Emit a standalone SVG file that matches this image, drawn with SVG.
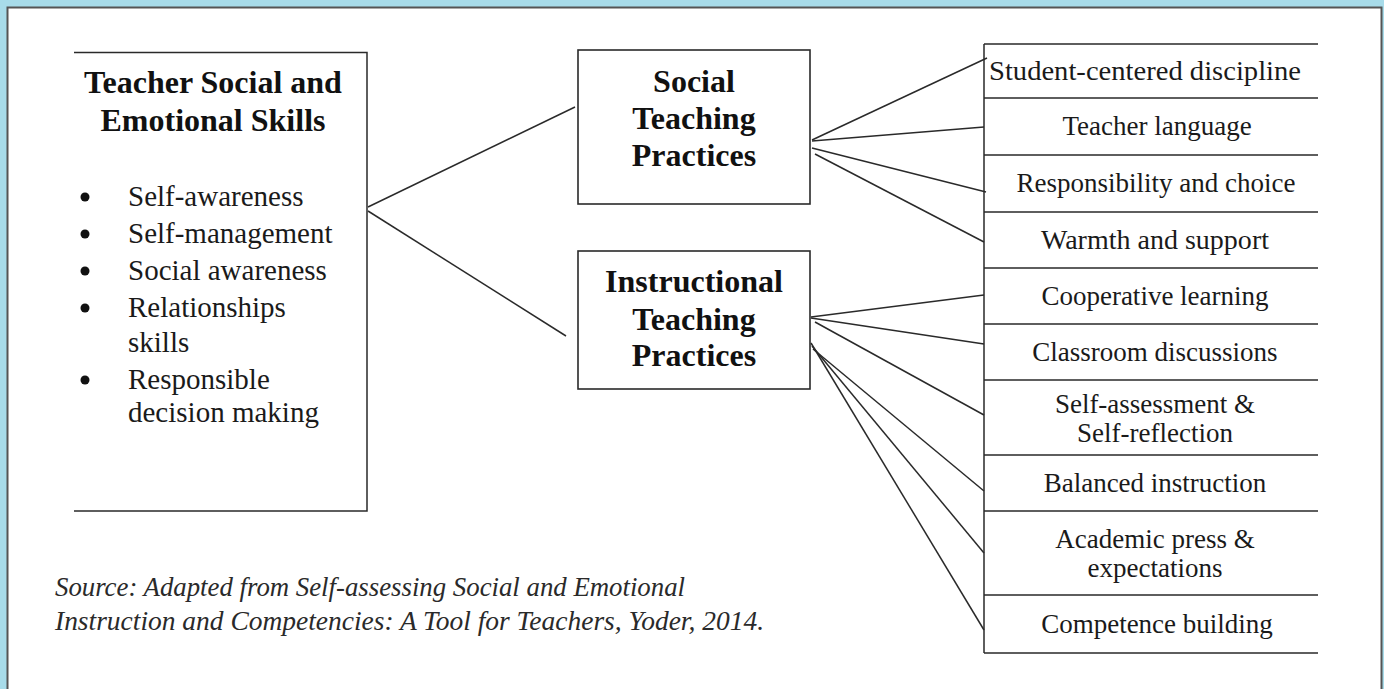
<svg xmlns="http://www.w3.org/2000/svg" width="1384" height="689" viewBox="0 0 1384 689">
<style>
.ln{stroke:#2a2a2a;stroke-width:1.5;fill:none}
.box{stroke:#2a2a2a;stroke-width:1.6;fill:#fff}
.dot{fill:#111}
.hd{font-family:"Liberation Serif",serif;font-weight:bold;font-size:32px;fill:#111;text-anchor:middle}
.bl{font-family:"Liberation Serif",serif;font-size:29px;fill:#1a1a1a}
.rw{font-family:"Liberation Serif",serif;font-size:27px;fill:#1a1a1a;text-anchor:middle}
.src{font-family:"Liberation Serif",serif;font-style:italic;font-size:28px;fill:#2a2a2a}
</style>
<rect x="0" y="0" width="1384" height="689" fill="#a8dcea"/>
<rect x="7.5" y="7.5" width="1374" height="700" fill="#fff" stroke="#555" stroke-width="2"/>

<g id="connectors">
<line class="ln" x1="368" y1="207" x2="575" y2="107"/>
<line class="ln" x1="368" y1="211" x2="566" y2="336"/>
<line class="ln" x1="812" y1="140" x2="987" y2="58"/>
<line class="ln" x1="812" y1="141" x2="984" y2="127"/>
<line class="ln" x1="812" y1="148" x2="986" y2="192"/>
<line class="ln" x1="815" y1="154" x2="984" y2="242"/>
<line class="ln" x1="811" y1="317" x2="984" y2="295"/>
<line class="ln" x1="811" y1="318" x2="984" y2="344"/>
<line class="ln" x1="815" y1="322" x2="984" y2="415"/>
<line class="ln" x1="813" y1="349" x2="984" y2="491"/>
<line class="ln" x1="812" y1="346" x2="984" y2="553"/>
<line class="ln" x1="811" y1="343" x2="984" y2="630"/>
</g>

<g id="node-teacher-skills">
<path class="ln" d="M74 52.5 H367 V511 H74"/>
<text class="hd" x="213" y="93">Teacher Social and</text>
<text class="hd" x="213" y="131">Emotional Skills</text>
<circle class="dot" cx="85" cy="197" r="4.5"/>
<text class="bl" x="128" y="206">Self-awareness</text>
<circle class="dot" cx="85" cy="234" r="4.5"/>
<text class="bl" x="128" y="243">Self-management</text>
<circle class="dot" cx="85" cy="271" r="4.5"/>
<text class="bl" x="128" y="280">Social awareness</text>
<circle class="dot" cx="85" cy="308" r="4.5"/>
<text class="bl" x="128" y="317">Relationships</text>
<text class="bl" x="128" y="352">skills</text>
<circle class="dot" cx="85" cy="380" r="4.5"/>
<text class="bl" x="128" y="389">Responsible</text>
<text class="bl" x="128" y="422">decision making</text>
</g>

<g id="node-social">
<rect class="box" x="578" y="50" width="232" height="154"/>
<text class="hd" x="694" y="92">Social</text>
<text class="hd" x="694" y="129">Teaching</text>
<text class="hd" x="694" y="166">Practices</text>
</g>

<g id="node-instructional">
<rect class="box" x="578" y="251" width="232" height="138"/>
<text class="hd" x="694" y="292">Instructional</text>
<text class="hd" x="694" y="330">Teaching</text>
<text class="hd" x="694" y="366">Practices</text>
</g>

<g id="node-practices">
<path class="ln" d="M984 44 V653 M984 44 H1318 M984 98 H1318 M984 155 H1318 M984 212 H1318 M984 268 H1318 M984 324 H1318 M984 380 H1318 M984 455 H1318 M984 511 H1318 M984 595 H1318 M984 653 H1318"/>
<text class="rw" x="1145" y="80" textLength="312" lengthAdjust="spacingAndGlyphs">Student-centered discipline</text>
<text class="rw" x="1157" y="135">Teacher language</text>
<text class="rw" x="1156" y="192">Responsibility and choice</text>
<text class="rw" x="1155" y="249" textLength="228" lengthAdjust="spacingAndGlyphs">Warmth and support</text>
<text class="rw" x="1155" y="305">Cooperative learning</text>
<text class="rw" x="1155" y="361">Classroom discussions</text>
<text class="rw" x="1155" y="413">Self-assessment &amp;</text>
<text class="rw" x="1155" y="442">Self-reflection</text>
<text class="rw" x="1155" y="492">Balanced instruction</text>
<text class="rw" x="1155" y="548">Academic press &amp;</text>
<text class="rw" x="1155" y="577">expectations</text>
<text class="rw" x="1157" y="633">Competence building</text>
</g>

<g id="source">
<text class="src" x="55" y="596" textLength="630" lengthAdjust="spacingAndGlyphs">Source: Adapted from Self-assessing Social and Emotional</text>
<text class="src" x="55" y="630" textLength="709" lengthAdjust="spacingAndGlyphs">Instruction and Competencies: A Tool for Teachers, Yoder, 2014.</text>
</g>
</svg>
